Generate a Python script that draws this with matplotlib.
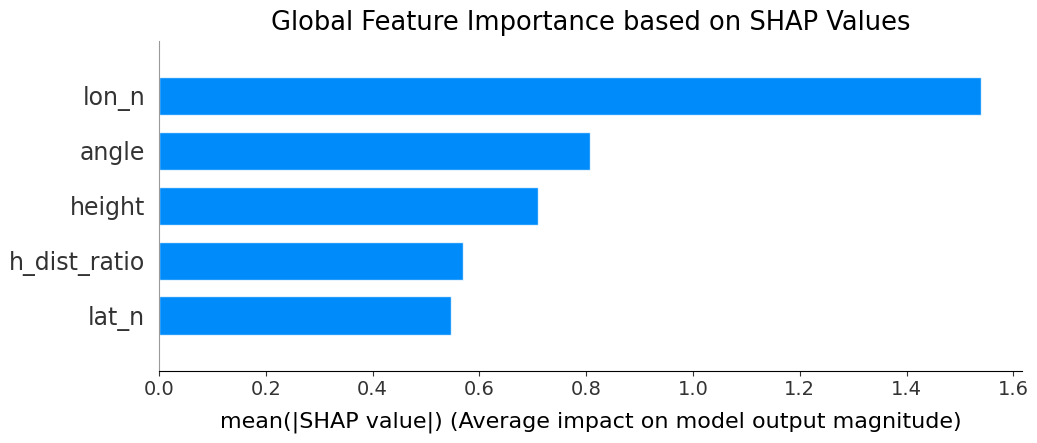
import matplotlib
matplotlib.use("Agg")
import matplotlib.pyplot as plt
import numpy as np

# mean |SHAP| per feature (top to bottom)
features = ["lon_n", "angle", "height", "h_dist_ratio", "lat_n"]
mean_shap = [1.540, 0.807, 0.709, 0.570, 0.547]
xticks = [0.0, 0.2, 0.4, 0.6, 0.8, 1.0, 1.2, 1.4, 1.6]

bar_color = "#008bfb"

fig = plt.figure(figsize=(10.37, 4.43), dpi=100)
ax = fig.add_axes([0.1533, 0.1634, 0.8327, 0.744])

# shap-style: lowest feature at y=0
y_pos = np.arange(len(features))[::-1]
ax.barh(y_pos, mean_shap, 0.7, align="center", color=bar_color,
        edgecolor=(1, 1, 1, 0.8))

ax.set_yticks(y_pos)
ax.set_yticklabels(features, fontsize=17, color="#333333")
ax.set_ylim(-1, len(features))
ax.set_xlim(0, max(mean_shap) * 1.05)
ax.set_xticks(xticks)
ax.set_xticklabels([f"{t:.1f}" for t in xticks], fontsize=14, color="#333333")

ax.spines["top"].set_visible(False)
ax.spines["right"].set_visible(False)
ax.spines["left"].set_color("#999999")
ax.tick_params(axis="y", length=0, pad=10)
ax.tick_params(axis="x", color="#333333")

ax.set_xlabel("mean(|SHAP value|) (Average impact on model output magnitude)",
              fontsize=16, labelpad=9)
ax.set_title("Global Feature Importance based on SHAP Values", fontsize=18.5,
             pad=8)

fig.savefig("out.png", dpi=100)
